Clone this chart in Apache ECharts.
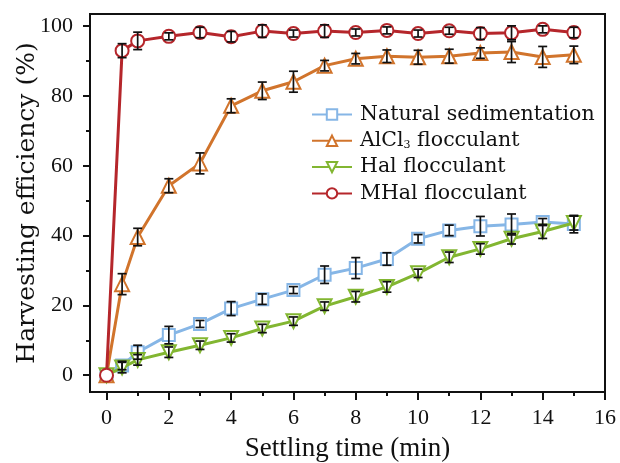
<!DOCTYPE html>
<html>
<head>
<meta charset="utf-8">
<script src="https://cdn.jsdelivr.net/npm/echarts@6/dist/echarts.min.js"></script>
<style>html,body{margin:0;padding:0;background:#fff}#c{width:620px;height:463px}</style>
</head>
<body>
<div id="c"></div>
<script>
const times = [0, 0.5, 1, 2, 3, 4, 5, 6, 7, 8, 9, 10, 11, 12, 13, 14, 15];
const natural = [0, 2.8, 6.6, 11.5, 14.7, 19.1, 21.8, 24.4, 28.8, 30.7, 33.3, 39.1, 41.5, 42.7, 43.2, 43.9, 43.3];
const naturalErr = [0, 1.2, 2, 2.5, 1, 2, 1.5, 1, 2.5, 3, 1.8, 1.2, 1.5, 2.8, 3, 1, 2.5];
const alcl3 = [0, 26.1, 39.6, 54.3, 60.7, 77.2, 81.5, 84.1, 88.7, 90.7, 91.4, 91.1, 91.4, 92.3, 92.6, 91.2, 91.8];
const alcl3Err = [0, 3, 2.5, 2, 3, 2, 2.5, 3, 1.5, 1.5, 1.8, 2, 2, 1.5, 3, 3, 2.5];
const hal = [0, 2.2, 4.4, 6.6, 8.6, 10.7, 13.4, 15.5, 19.8, 22.5, 25.3, 29.2, 33.8, 36.2, 39.1, 41.2, 43.6];
const halErr = [0, 1.5, 1.5, 1.5, 1.2, 1.2, 1.2, 1.2, 1.2, 1.5, 1.5, 1.2, 1.5, 1.5, 1.5, 2, 2];
const mhal = [0, 93.0, 95.8, 97.1, 98.2, 97.0, 98.6, 97.9, 98.6, 98.2, 98.8, 97.9, 98.7, 97.9, 98.1, 99.1, 98.2];
const mhalErr = [0, 2, 2.5, 1, 1.5, 1.5, 1.8, 1, 1.8, 1, 1, 1, 1, 1.7, 2, 1, 1.5];
const xMajorTicks = [0, 2, 4, 6, 8, 10, 12, 14, 16];
const xMinorTicks = [1, 3, 5, 7, 9, 11, 13, 15];
const yMajorTicks = [0, 20, 40, 60, 80, 100];
const yMinorTicks = [10, 30, 50, 70, 90];
const names = ['Natural sedimentation', 'AlCl3 flocculant', 'Hal flocculant', 'MHal flocculant'];

const FONT = '"Liberation Serif", "Times New Roman", serif';
const WIDE = '"DejaVu Serif", serif';
const colors = ['#86b6e6', '#d1742c', '#82b631', '#b5262b'];
const symbols = ['rect', 'triangle', 'triangle', 'circle'];
const rotates = [0, 0, 180, 0];
const sizes = [12, 14, 14, 13];
const vals = [natural, alcl3, hal, mhal];
const errs = [naturalErr, alcl3Err, halErr, mhalErr];

const chart = echarts.init(document.getElementById('c'), null, {renderer: 'canvas'});

const series = [];
vals.forEach((v, i) => {
  series.push({
    name: names[i], type: 'line', xAxisIndex: 0, yAxisIndex: 0,
    data: times.map((t, k) => [t, v[k]]),
    symbol: symbols[i], symbolSize: sizes[i], symbolRotate: rotates[i],
    showAllSymbol: true,
    lineStyle: {color: colors[i], width: 3},
    itemStyle: {color: '#fff', borderColor: colors[i], borderWidth: 2},
    z: 2 + i, animation: false
  });
});
vals.forEach((v, i) => {
  series.push({
    type: 'custom', xAxisIndex: 0, yAxisIndex: 0,
    data: times.map((t, k) => [t, v[k], errs[i][k]]).filter(d => d[2] > 0),
    encode: {x: 0, y: 1},
    z: 10, animation: false, silent: true,
    renderItem: function (params, api) {
      const x = api.value(0), y = api.value(1), e = api.value(2);
      const p1 = api.coord([x, y + e]);
      const p2 = api.coord([x, y - e]);
      const w = 4.5;
      const st = {stroke: '#111', lineWidth: 1.7};
      return {type: 'group', children: [
        {type: 'line', shape: {x1: p1[0], y1: p1[1], x2: p2[0], y2: p2[1]}, style: st},
        {type: 'line', shape: {x1: p1[0] - w, y1: p1[1], x2: p1[0] + w, y2: p1[1]}, style: st},
        {type: 'line', shape: {x1: p2[0] - w, y1: p2[1], x2: p2[0] + w, y2: p2[1]}, style: st}
      ]};
    }
  });
});

const xCommon = {type: 'value', gridIndex: 0, min: -0.53, max: 16, splitLine: {show: false}};
const yCommon = {type: 'value', gridIndex: 0, min: -4.8, max: 103.5, splitLine: {show: false}};

chart.setOption({
  animation: false,
  backgroundColor: '#fff',
  grid: {left: 90, right: 15, top: 14, bottom: 71, containLabel: false, outerBoundsMode: 'none',
    show: true, borderColor: '#111', borderWidth: 2, backgroundColor: 'transparent'},
  legend: {
    data: names, orient: 'vertical', left: 306, top: 99,
    itemWidth: 40, itemHeight: 13, itemGap: 5.3,
    textStyle: {fontFamily: WIDE, fontSize: 20.5, lineHeight: 19, color: '#111', padding: [0, 0, 0, 3],
      rich: {sub: {fontFamily: WIDE, fontSize: 11, lineHeight: 19, verticalAlign: 'bottom', padding: [9, 0, 0, 0], color: '#111'}}},
    formatter: function (n) { return n === 'AlCl3 flocculant' ? 'AlCl{sub|3} flocculant' : n; }
  },
  xAxis: [
    Object.assign({}, xCommon, {
      position: 'bottom',
      name: 'Settling time (min)', nameLocation: 'middle', nameGap: 43,
      nameTextStyle: {fontFamily: FONT, fontSize: 27, color: '#111'},
      axisLine: {show: true, onZero: false, lineStyle: {color: '#111', width: 2}},
      axisTick: {show: true, customValues: xMajorTicks, length: 8, lineStyle: {color: '#111', width: 2}},
      axisLabel: {show: true, customValues: xMajorTicks, margin: 15, fontFamily: FONT, fontSize: 22, color: '#111'}
    }),
    Object.assign({}, xCommon, {
      position: 'bottom',
      axisLine: {show: false, onZero: false},
      axisTick: {show: true, customValues: xMinorTicks, length: 4, lineStyle: {color: '#111', width: 2}},
      axisLabel: {show: false}
    })
  ],
  yAxis: [
    Object.assign({}, yCommon, {
      position: 'left',
      name: 'Harvesting efficiency (%)', nameLocation: 'middle', nameGap: 50, nameRotate: 90,
      nameMoveOverlap: false,
      nameTextStyle: {fontFamily: WIDE, fontSize: 25, color: '#111'},
      axisLine: {show: true, onZero: false, lineStyle: {color: '#111', width: 2}},
      axisTick: {show: true, customValues: yMajorTicks, length: 7, lineStyle: {color: '#111', width: 2}},
      axisLabel: {show: true, customValues: yMajorTicks, margin: 17, fontFamily: FONT, fontSize: 22, color: '#111'}
    }),
    Object.assign({}, yCommon, {
      position: 'left',
      axisLine: {show: false, onZero: false},
      axisTick: {show: true, customValues: yMinorTicks, length: 4, lineStyle: {color: '#111', width: 2}},
      axisLabel: {show: false}
    })
  ],
  series: series
});
</script>
</body>
</html>
